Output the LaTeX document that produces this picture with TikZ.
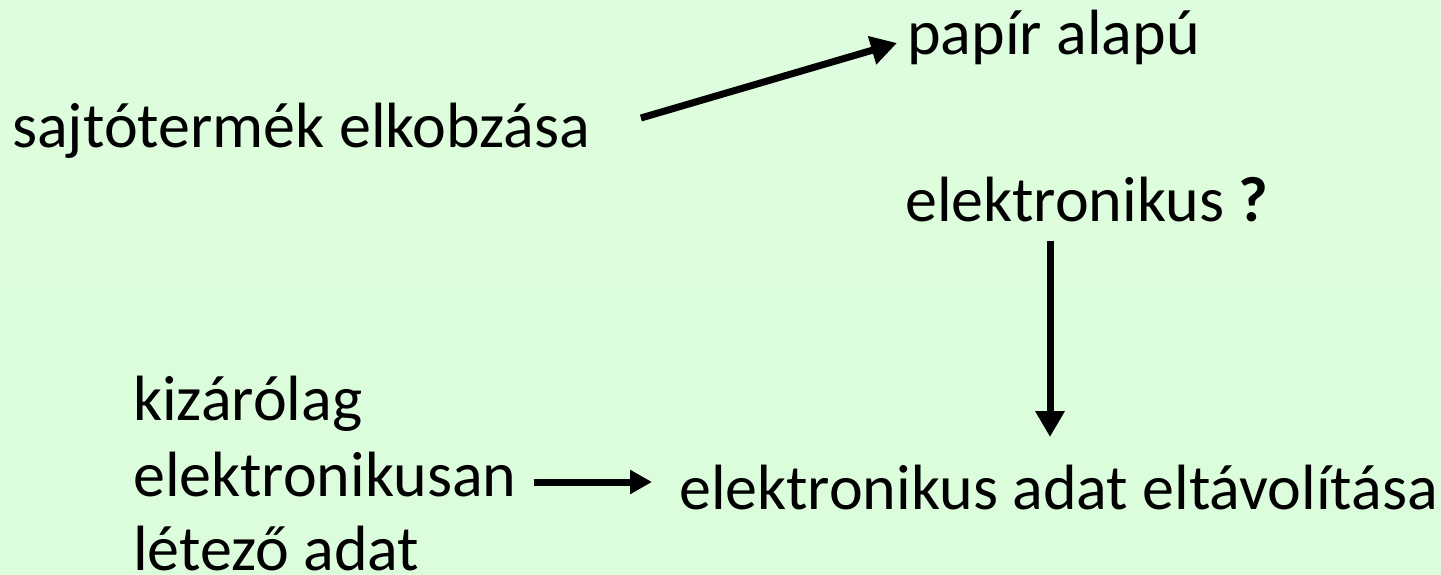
\documentclass[tikz,border=0pt]{standalone}
\usepackage{fontspec}
\setmainfont{Carlito}
\usetikzlibrary{arrows.meta}
\definecolor{bgtop}{RGB}{222,253,222}
\definecolor{bgmid}{RGB}{200,250,200}
\definecolor{bgbot}{RGB}{219,253,219}

\begin{document}
\begin{tikzpicture}[x=1pt,y=-1pt,
    txt/.style={inner sep=0pt, anchor=base west, font=\fontsize{64}{77}\selectfont},
    arr/.style={line width=7pt, -{Triangle[length=26pt,width=28pt]}}]
    % háttér
    \shade[top color=bgtop, middle color=bgmid, bottom color=bgbot] (0,0) rectangle (1441,575);
    \useasboundingbox (0,0) rectangle (1441,575);
    % szövegek
    \node[txt] (sajto) at (12,148) {sajtótermék elkobzása};
    \node[txt] (papir) at (907,55) {papír alapú};
    \node[txt] (elektr) at (905,222) {elektronikus \textbf{?}};
    \node[txt] (kizar) at (133,420) {kizárólag};
    \node[txt] (elek) at (133,496) {elektronikusan};
    \node[txt] (letezo) at (133,570) {létező adat};
    \node[txt] (eltav) at (679,509) {elektronikus adat eltávolítása};
    % nyilak
    \draw[arr] ([xshift=51pt,yshift=30pt]sajto.base east) -- ([xshift=-10pt,yshift=12pt]papir.base west);
    \coordinate (vtop) at ([xshift=145pt,yshift=-19pt]elektr.base west);
    \draw[arr, shorten >=72pt] (vtop) -- (vtop |- eltav.base);
    \coordinate (hstart) at ([yshift=14pt]elek.base east);
    \draw[arr, -{Triangle[length=22pt,width=23pt]}, shorten <=17pt, shorten >=27pt] (hstart) -- (hstart -| eltav.west);
\end{tikzpicture}
\end{document}
